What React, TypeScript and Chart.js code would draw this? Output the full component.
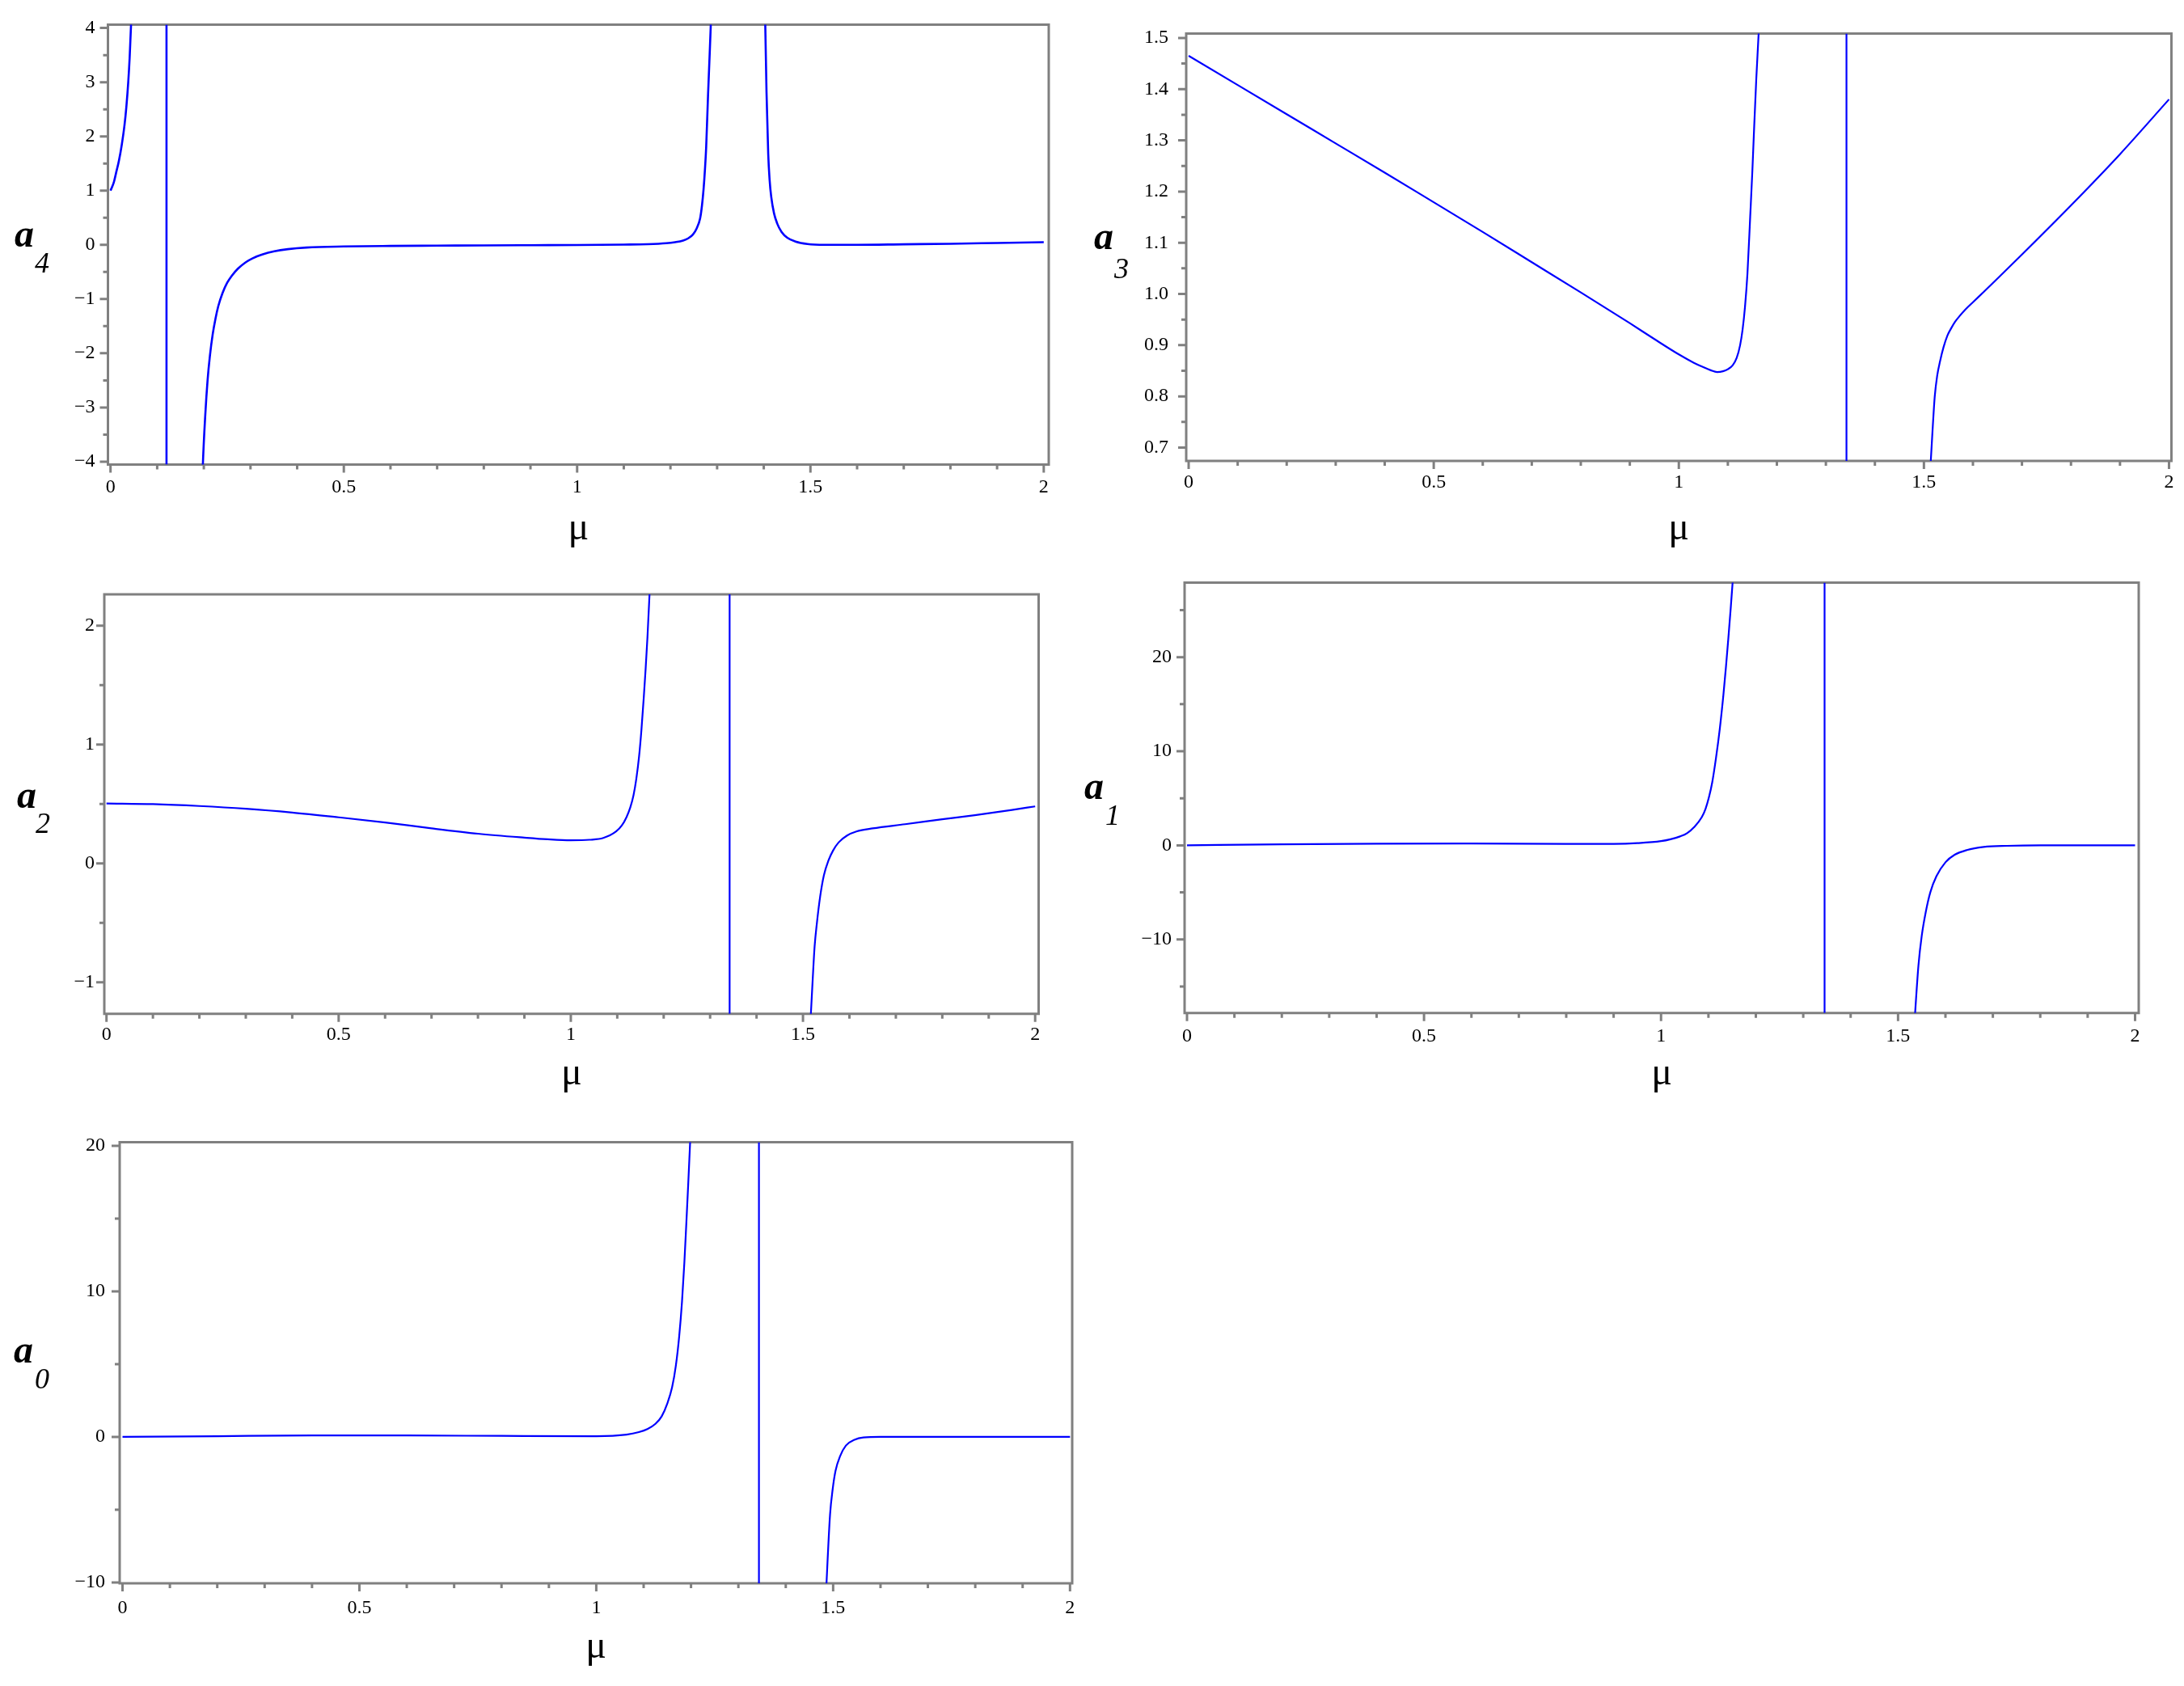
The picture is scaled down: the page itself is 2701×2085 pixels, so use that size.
import React, { useEffect, useRef } from "react";
import { Chart, registerables } from "chart.js";

Chart.register(...registerables);

// ---------------- shared μ axis ----------------
const MU_TICKS = [0, 0.5, 1, 1.5, 2];
const MU_TICK_LABELS = ["0", "0.5", "1", "1.5", "2"];
const MU_MINOR_TICKS = [0.1, 0.2, 0.3, 0.4, 0.6, 0.7, 0.8, 0.9, 1.1, 1.2, 1.3, 1.4, 1.6, 1.7, 1.8, 1.9];

// ---------------- a4 ----------------
const A4_Y_TICKS = [-4, -3, -2, -1, 0, 1, 2, 3, 4];
const A4_Y_LABELS = ["\u22124", "\u22123", "\u22122", "\u22121", "0", "1", "2", "3", "4"];
const A4_Y_MINOR = [-3.5, -2.5, -1.5, -0.5, 0.5, 1.5, 2.5, 3.5];
const A4_BRANCH1_MU = [0, 0.007, 0.012, 0.018, 0.024, 0.03, 0.034, 0.038, 0.041, 0.044, 0.047];
const A4_BRANCH1_VAL = [1.0, 1.15, 1.33, 1.55, 1.84, 2.21, 2.55, 3.0, 3.45, 4.06, 4.9];
const A4_POLES = [0.12];
const A4_BRANCH2_MU = [0.192, 0.198, 0.203, 0.208, 0.213, 0.219, 0.225, 0.231, 0.24, 0.25, 0.26, 0.273, 0.29, 0.304, 0.325, 0.351, 0.38, 0.42, 0.5, 0.6, 0.7, 0.8, 0.9, 1.0, 1.1, 1.15, 1.191, 1.21, 1.227, 1.238, 1.248, 1.256, 1.2636, 1.2675, 1.2709, 1.274, 1.2766, 1.2805, 1.2835, 1.2862, 1.289];
const A4_BRANCH2_VAL = [-5.8, -4.04, -3.15, -2.5, -2.05, -1.65, -1.36, -1.13, -0.89, -0.7, -0.57, -0.44, -0.32, -0.25, -0.18, -0.12, -0.08, -0.05, -0.03, -0.02, -0.015, -0.01, -0.006, -0.003, 0.005, 0.012, 0.03, 0.05, 0.08, 0.12, 0.19, 0.3, 0.49, 0.72, 1.02, 1.4, 1.81, 2.75, 3.4, 4.0, 4.8];
const A4_BRANCH3_MU = [1.399, 1.4031, 1.4059, 1.4095, 1.4125, 1.4159, 1.422, 1.4289, 1.438, 1.4504, 1.468, 1.4936, 1.53, 1.6, 1.7, 1.8, 1.9, 2.0];
const A4_BRANCH3_VAL = [5.5, 4.1, 2.81, 1.68, 1.2, 0.89, 0.58, 0.39, 0.24, 0.13, 0.06, 0.015, 0, 0, 0.01, 0.02, 0.035, 0.05];

// ---------------- a3 ----------------
const A3_Y_TICKS = [0.7, 0.8, 0.9, 1.0, 1.1, 1.2, 1.3, 1.4, 1.5];
const A3_Y_LABELS = ["0.7", "0.8", "0.9", "1.0", "1.1", "1.2", "1.3", "1.4", "1.5"];
const A3_Y_MINOR = [0.75, 0.85, 0.95, 1.05, 1.15, 1.25, 1.35, 1.45];
const A3_BRANCH1_MU = [0, 0.1, 0.2, 0.3, 0.4, 0.5, 0.6, 0.7, 0.8, 0.9, 0.95, 1.0, 1.03, 1.05, 1.065, 1.078, 1.09, 1.1, 1.11, 1.118, 1.125, 1.13, 1.135, 1.14, 1.1456, 1.15, 1.153, 1.158, 1.163, 1.168];
const A3_BRANCH1_VAL = [1.465, 1.408, 1.351, 1.294, 1.237, 1.179, 1.121, 1.062, 1.003, 0.943, 0.912, 0.882, 0.866, 0.857, 0.851, 0.8475, 0.849, 0.853, 0.861, 0.875, 0.9, 0.93, 0.975, 1.04, 1.151, 1.24, 1.31, 1.42, 1.512, 1.62];
const A3_POLES = [1.342];
const A3_BRANCH2_MU = [1.508, 1.514, 1.518, 1.522, 1.527, 1.533, 1.54, 1.548, 1.555, 1.563, 1.572, 1.585, 1.6, 1.622, 1.65, 1.7, 1.8, 1.9, 2.0];
const A3_BRANCH2_VAL = [0.55, 0.674, 0.74, 0.799, 0.84, 0.869, 0.896, 0.919, 0.932, 0.945, 0.956, 0.97, 0.984, 1.004, 1.03, 1.077, 1.173, 1.273, 1.38];

// ---------------- a2 ----------------
const A2_Y_TICKS = [-1, 0, 1, 2];
const A2_Y_LABELS = ["\u22121", "0", "1", "2"];
const A2_Y_MINOR = [-0.5, 0.5, 1.5];
const A2_BRANCH1_MU = [0, 0.1, 0.2, 0.3, 0.4, 0.5, 0.6, 0.7, 0.8, 0.9, 0.95, 1.0, 1.04, 1.07, 1.0976, 1.11, 1.12, 1.128, 1.135, 1.141, 1.147, 1.152, 1.157, 1.161, 1.165, 1.1695, 1.174];
const A2_BRANCH1_VAL = [0.505, 0.499, 0.483, 0.46, 0.428, 0.388, 0.345, 0.295, 0.25, 0.217, 0.203, 0.195, 0.199, 0.214, 0.269, 0.32, 0.39, 0.47, 0.573, 0.71, 0.9, 1.12, 1.39, 1.63, 1.9, 2.264, 2.65];
const A2_POLES = [1.342];
const A2_BRANCH2_MU = [1.512, 1.517, 1.521, 1.525, 1.53, 1.537, 1.545, 1.555, 1.565, 1.577, 1.595, 1.615, 1.65, 1.72, 1.8, 1.87, 1.95, 2.0];
const A2_BRANCH2_VAL = [-1.7, -1.265, -0.97, -0.7, -0.5, -0.278, -0.1, 0.026, 0.11, 0.178, 0.235, 0.269, 0.295, 0.33, 0.372, 0.406, 0.45, 0.48];

// ---------------- a1 ----------------
const A1_Y_TICKS = [-10, 0, 10, 20];
const A1_Y_LABELS = ["\u221210", "0", "10", "20"];
const A1_Y_MINOR = [-15, -5, 5, 15, 25];
const A1_BRANCH1_MU = [0, 0.2, 0.4, 0.6, 0.8, 0.9, 0.95, 1.0, 1.02, 1.04, 1.055, 1.07, 1.086, 1.094, 1.101, 1.108, 1.116, 1.124, 1.1316, 1.137, 1.142, 1.147, 1.151, 1.155];
const A1_BRANCH1_VAL = [0, 0.12, 0.18, 0.2, 0.15, 0.16, 0.24, 0.45, 0.65, 0.95, 1.3, 1.95, 3.0, 3.9, 5.1, 6.7, 9.3, 12.4, 16.0, 19.0, 22.0, 25.2, 27.93, 31];
const A1_POLES = [1.345];
const A1_BRANCH2_MU = [1.531, 1.536, 1.543, 1.55, 1.5585, 1.568, 1.581, 1.6, 1.6195, 1.645, 1.6805, 1.73, 1.8, 1.9, 2.0];
const A1_BRANCH2_VAL = [-22, -17.82, -12.77, -9.6, -7.07, -5.0, -3.28, -1.8, -1.0, -0.5, -0.17, -0.05, 0, 0, 0];

// ---------------- a0 ----------------
const A0_Y_TICKS = [-10, 0, 10, 20];
const A0_Y_LABELS = ["\u221210", "0", "10", "20"];
const A0_Y_MINOR = [-5, 5, 15];
const A0_BRANCH1_MU = [0, 0.2, 0.4, 0.6, 0.8, 1.0, 1.064, 1.09, 1.108, 1.125, 1.138, 1.15, 1.16, 1.168, 1.175, 1.181, 1.186, 1.19, 1.194, 1.1975, 1.2, 1.203];
const A0_BRANCH1_VAL = [0, 0.05, 0.1, 0.1, 0.07, 0.05, 0.16, 0.33, 0.54, 0.9, 1.41, 2.3, 3.4, 4.9, 6.9, 9.3, 12.0, 14.6, 17.3, 19.8, 21.6, 24];
const A0_POLES = [1.3434];
const A0_BRANCH2_MU = [1.482, 1.486, 1.4935, 1.499, 1.505, 1.515, 1.527, 1.545, 1.564, 1.6, 1.7, 1.8, 1.9, 2.0];
const A0_BRANCH2_VAL = [-13, -10.06, -5.33, -3.6, -2.34, -1.3, -0.59, -0.2, -0.04, 0, 0, 0, 0, 0];

// ---------------- styling / layout ----------------
const BLUE = "#0000ff";
const AXIS_GRAY = "#808080";
const SERIF = '"Liberation Serif", "Times New Roman", serif';

const PANELS: any[] = [
  {
    key: "a4", sub: "4",
    canvas: { x: 0, y: 0, w: 1320, h: 690 },
    plot: { l: 133.5, t: 27, r: 1297, b: 574.5 },
    xRange: [-0.0055, 2.0107], yRange: [-4.053, 4.063],
    yTicks: A4_Y_TICKS, yLabels: A4_Y_LABELS, yMinor: A4_Y_MINOR,
    branches: [[A4_BRANCH1_MU, A4_BRANCH1_VAL], [A4_BRANCH2_MU, A4_BRANCH2_VAL], [A4_BRANCH3_MU, A4_BRANCH3_VAL]],
    poles: A4_POLES, lineWidth: 2.6,
    yPad: 16, xPad: 14,
    label: { aX: 18, aBase: 305, dX: 43, dBase: 337 }, muBase: 667,
  },
  {
    key: "a3", sub: "3",
    canvas: { x: 1320, y: 0, w: 1381, h: 690 },
    plot: { l: 1467, t: 41.5, r: 2685.5, b: 570 },
    xRange: [-0.005, 2.0049], yRange: [0.674, 1.5085],
    yTicks: A3_Y_TICKS, yLabels: A3_Y_LABELS, yMinor: A3_Y_MINOR,
    branches: [[A3_BRANCH1_MU, A3_BRANCH1_VAL], [A3_BRANCH2_MU, A3_BRANCH2_VAL]],
    poles: A3_POLES, lineWidth: 2.2,
    yPad: 22, xPad: 12.5,
    label: { aX: 1353, aBase: 308, dX: 1378, dBase: 344 }, muBase: 667,
  },
  {
    key: "a2", sub: "2",
    canvas: { x: 0, y: 690, w: 1320, h: 690 },
    plot: { l: 129, t: 735, r: 1284.5, b: 1253.7 },
    xRange: [-0.0047, 2.0075], yRange: [-1.2646, 2.2636],
    yTicks: A2_Y_TICKS, yLabels: A2_Y_LABELS, yMinor: A2_Y_MINOR,
    branches: [[A2_BRANCH1_MU, A2_BRANCH1_VAL], [A2_BRANCH2_MU, A2_BRANCH2_VAL]],
    poles: A2_POLES, lineWidth: 2.2,
    yPad: 12, xPad: 11.5,
    label: { aX: 21, aBase: 999, dX: 44, dBase: 1030 }, muBase: 1341,
  },
  {
    key: "a1", sub: "1",
    canvas: { x: 1320, y: 690, w: 1381, h: 690 },
    plot: { l: 1465, t: 714.8, r: 2645, b: 1252.8 },
    xRange: [-0.0051, 2.0077], yRange: [-17.82, 27.93],
    yTicks: A1_Y_TICKS, yLabels: A1_Y_LABELS, yMinor: A1_Y_MINOR,
    branches: [[A1_BRANCH1_MU, A1_BRANCH1_VAL], [A1_BRANCH2_MU, A1_BRANCH2_VAL]],
    poles: A1_POLES, lineWidth: 2.2,
    yPad: 16, xPad: 14.5,
    label: { aX: 1341, aBase: 988, dX: 1367, dBase: 1020 }, muBase: 1341,
  },
  {
    key: "a0", sub: "0",
    canvas: { x: 0, y: 1380, w: 1400, h: 705 },
    plot: { l: 148, t: 1404, r: 1326, b: 1958 },
    xRange: [-0.006, 2.0046], yRange: [-10.06, 20.26],
    yTicks: A0_Y_TICKS, yLabels: A0_Y_LABELS, yMinor: A0_Y_MINOR,
    branches: [[A0_BRANCH1_MU, A0_BRANCH1_VAL], [A0_BRANCH2_MU, A0_BRANCH2_VAL]],
    poles: A0_POLES, lineWidth: 2.2,
    yPad: 18, xPad: 16.5,
    label: { aX: 17, aBase: 1685, dX: 43, dBase: 1717 }, muBase: 2050,
  },
];

function makeAxesPlugin(p: any) {
  return {
    id: "mapleAxes_" + p.key,
    beforeDatasetsDraw(chart: any) {
      const { ctx, chartArea: a } = chart;
      const sx = chart.scales.x;
      const sy = chart.scales.y;
      ctx.save();
      ctx.strokeStyle = AXIS_GRAY;
      ctx.lineWidth = 3;
      ctx.beginPath();
      ctx.rect(a.left, a.top, a.right - a.left, a.bottom - a.top);
      ctx.stroke();
      ctx.beginPath();
      for (const v of MU_TICKS) {
        const x = sx.getPixelForValue(v);
        ctx.moveTo(x, a.bottom);
        ctx.lineTo(x, a.bottom + 10);
      }
      for (const v of MU_MINOR_TICKS) {
        const x = sx.getPixelForValue(v);
        ctx.moveTo(x, a.bottom);
        ctx.lineTo(x, a.bottom + 6);
      }
      for (const v of p.yTicks) {
        const y = sy.getPixelForValue(v);
        ctx.moveTo(a.left, y);
        ctx.lineTo(a.left - 10, y);
      }
      for (const v of p.yMinor) {
        const y = sy.getPixelForValue(v);
        ctx.moveTo(a.left, y);
        ctx.lineTo(a.left - 6, y);
      }
      ctx.stroke();
      ctx.restore();
    },
    afterDraw(chart: any) {
      const { ctx, chartArea: a } = chart;
      ctx.save();
      ctx.fillStyle = "#000";
      ctx.textBaseline = "alphabetic";
      ctx.textAlign = "left";
      ctx.font = "italic bold 48px " + SERIF;
      ctx.fillText("a", p.label.aX - p.canvas.x, p.label.aBase - p.canvas.y);
      ctx.font = "italic 36px " + SERIF;
      ctx.fillText(p.sub, p.label.dX - p.canvas.x, p.label.dBase - p.canvas.y);
      ctx.font = "48px " + SERIF;
      ctx.textAlign = "center";
      ctx.fillText("\u03bc", (a.left + a.right) / 2, p.muBase - p.canvas.y);
      ctx.restore();
    },
  };
}

function Panel({ p }: { p: any }) {
  const ref = useRef<HTMLCanvasElement>(null);
  useEffect(() => {
    const canvas = ref.current;
    if (!canvas) return;
    const datasets: any[] = p.branches.map((b: number[][]) => ({
      data: b[0].map((m: number, i: number) => ({ x: m, y: b[1][i] })),
      borderColor: BLUE,
      borderWidth: p.lineWidth,
      pointRadius: 0,
      fill: false,
      cubicInterpolationMode: "monotone",
    }));
    for (const pole of p.poles) {
      datasets.push({
        data: [
          { x: pole, y: p.yRange[1] },
          { x: pole, y: p.yRange[0] },
        ],
        borderColor: BLUE,
        borderWidth: p.lineWidth,
        pointRadius: 0,
        fill: false,
        tension: 0,
      });
    }
    const yWidth = p.plot.l - p.canvas.x;
    const xHeight = p.canvas.y + p.canvas.h - p.plot.b;
    const tickFont = { family: SERIF, size: 24 };
    const chart = new Chart(canvas, {
      type: "line",
      data: { datasets },
      options: {
        responsive: false,
        animation: false,
        events: [],
        layout: {
          padding: {
            top: p.plot.t - p.canvas.y,
            right: p.canvas.x + p.canvas.w - p.plot.r,
            left: 0,
            bottom: 0,
          },
        },
        elements: { line: { capBezierPoints: false } },
        plugins: { legend: { display: false }, tooltip: { enabled: false }, title: { display: false } },
        scales: {
          x: {
            type: "linear",
            position: "bottom",
            min: p.xRange[0],
            max: p.xRange[1],
            grid: { display: false, drawTicks: false },
            border: { display: false },
            afterBuildTicks: (s: any) => {
              s.ticks = MU_TICKS.map((v) => ({ value: v }));
            },
            afterFit: (s: any) => {
              s.height = xHeight;
            },
            ticks: {
              autoSkip: false,
              maxRotation: 0,
              minRotation: 0,
              padding: p.xPad,
              color: "#000",
              font: tickFont,
              callback: (_v: any, i: number) => MU_TICK_LABELS[i],
            },
          },
          y: {
            type: "linear",
            position: "left",
            min: p.yRange[0],
            max: p.yRange[1],
            grid: { display: false, drawTicks: false },
            border: { display: false },
            afterBuildTicks: (s: any) => {
              s.ticks = p.yTicks.map((v: number) => ({ value: v }));
            },
            afterFit: (s: any) => {
              s.width = yWidth;
            },
            ticks: {
              autoSkip: false,
              padding: p.yPad,
              color: "#000",
              font: tickFont,
              callback: (_v: any, i: number) => p.yLabels[i],
            },
          },
        },
      } as any,
      plugins: [makeAxesPlugin(p)],
    } as any);
    return () => chart.destroy();
  }, [p]);
  return (
    <canvas
      ref={ref}
      width={p.canvas.w}
      height={p.canvas.h}
      style={{ position: "absolute", left: p.canvas.x, top: p.canvas.y, width: p.canvas.w, height: p.canvas.h }}
    />
  );
}

export default function App() {
  return (
    <div style={{ position: "absolute", left: 0, top: 0, width: 2701, height: 2085, background: "#fff", overflow: "hidden" }}>
      {PANELS.map((p) => (
        <Panel key={p.key} p={p} />
      ))}
    </div>
  );
}
